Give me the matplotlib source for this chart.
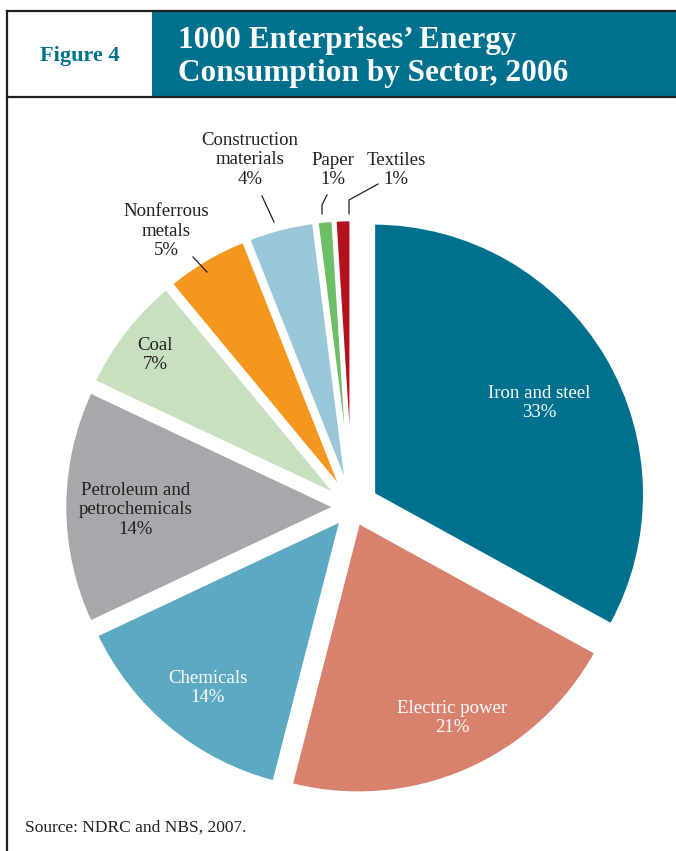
import matplotlib.pyplot as plt
from matplotlib.patches import Rectangle

plt.rcParams['font.family'] = ['Liberation Serif', 'DejaVu Serif']

# sector shares, clockwise from 12 o'clock
sectors = ['Iron and steel', 'Electric power', 'Chemicals',
           'Petroleum and\npetrochemicals', 'Coal', 'Nonferrous\nmetals',
           'Construction\nmaterials', 'Paper', 'Textiles']
shares = [33, 21, 14, 14, 7, 5, 4, 1, 1]
colors = ['#00708f', '#d8826e', '#5ba9c3', '#a7a8ab', '#c7e1c0',
          '#f5971f', '#99c6d8', '#6dbf67', '#b3121c']

W, H = 676, 851
fig = plt.figure(figsize=(W / 100, H / 100), dpi=100)

# pie in its own unit coordinates: centre at pixel (352, 507), radius 272 px
cx, cy, R = 352, 507, 272
ax = fig.add_axes([0, 0, 1, 1])

explode = [0.09] + [0.058] * 8
ax.pie(shares, colors=colors, startangle=90, counterclock=False,
       explode=explode, radius=1.0,
       wedgeprops=dict(edgecolor='white', linewidth=3))
ax.set_xlim((0 - cx) / R, (W - cx) / R)
ax.set_ylim((cy - H) / R, cy / R)
ax.set_aspect('equal')
ax.axis('off')


def P(px, py):
    # pixel position -> pie units
    return (px - cx) / R, (cy - py) / R


fs = 13.5
ls = 1.2
labels_in = [
    (0, (539, 403), 'white'),
    (1, (452, 718), 'white'),
    (2, (208, 688), 'white'),
    (3, (136, 510), '#231f20'),
    (4, (155, 355), '#231f20'),
]
for i, (px, py), c in labels_in:
    ax.text(*P(px, py), f'{sectors[i]}\n{shares[i]}%', ha='center',
            va='center', color=c, fontsize=fs, linespacing=ls)

labels_out = [
    (5, (166, 231), [(193, 257), (207, 272)]),
    (6, (250, 160), [(262, 196), (274, 222)]),
    (7, (333, 170), [(327, 195), (322, 205), (322, 214)]),
    (8, (396, 170), [(378, 184), (349, 200), (349, 214)]),
]
for i, (px, py), pts in labels_out:
    ax.text(*P(px, py), f'{sectors[i]}\n{shares[i]}%', ha='center',
            va='center', color='#231f20', fontsize=fs, linespacing=ls)
    xs, ys = zip(*[P(a, b) for a, b in pts])
    ax.plot(xs, ys, color='#231f20', lw=0.9)

# header band and frame
fa = fig.add_axes([0, 0, 1, 1], facecolor='none')
fa.set_xlim(0, W)
fa.set_ylim(H, 0)
fa.axis('off')
fa.add_patch(Rectangle((152, 11), W - 152, 86, facecolor='#00708f',
                       edgecolor='none'))
fa.plot([7, W], [11, 11], color='#231f20', lw=1.6)
fa.plot([7, W], [97, 97], color='#231f20', lw=1.6)
fa.plot([7, 7], [11, H], color='#231f20', lw=1.6)
fa.text(80, 56, 'Figure 4', color='#00708f', fontsize=16, fontweight='bold',
        ha='center', va='center')
fa.text(178, 57, '1000 Enterprises’ Energy\nConsumption by Sector, 2006',
        color='white', fontsize=22.5, fontweight='bold', ha='left',
        va='center', linespacing=1.15)
fa.text(25, 828, 'Source: NDRC and NBS, 2007.', color='#231f20',
        fontsize=12.5, ha='left', va='center')

fig.savefig('out.png', dpi=100)
